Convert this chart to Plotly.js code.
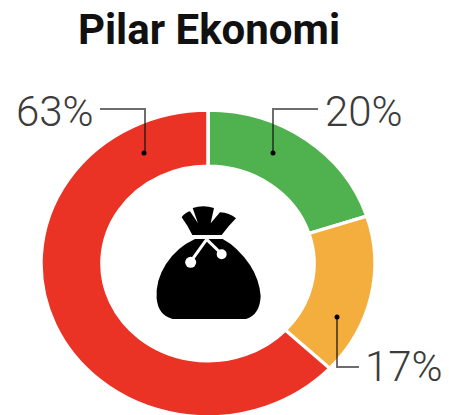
<!DOCTYPE html>
<html><head><meta charset="utf-8">
<script src="https://cdn.plot.ly/plotly-3.0.1.min.js"></script>
<style>html,body{margin:0;padding:0;background:#fff;overflow:hidden}#c{width:449px;height:415px}</style>
</head><body><div id="c"></div>
<script>
var categories=['Hijau','Kuning','Merah'];
var values=[20,17,63];
var tickLabels=['20%','17%','63%'];
var colors=['#4FB24E','#F3AE3E','#EA3225'];
var W=449,H=415;
var px=function(x){return x/W},py=function(y){return 1-y/H};
function ic(s){ // icon path, icon coords => paper
  return s.replace(/(-?[\d.]+) (-?[\d.]+)/g,function(m,a,b){
    return px(140+a/3).toFixed(5)+','+py(190+b/3).toFixed(5);});
}
function poly(pts){return 'M'+pts.map(function(p){return px(p[0]).toFixed(5)+','+py(p[1]).toFixed(5)}).join('L');}
var lineStyle={color:'rgba(20,20,20,0.62)',width:2};
var leaders=[
 [[100,109],[145,109],[145,153]],
 [[318,109],[273,109],[273,153]],
 [[337,317],[337,367],[359,367]]
];
var shapes=leaders.map(function(l){return {type:'path',xref:'paper',yref:'paper',path:poly(l),line:lineStyle,fillcolor:'rgba(0,0,0,0)'}});
[[144,153],[273,153],[337,317]].forEach(function(d){
 shapes.push({type:'circle',xref:'paper',yref:'paper',x0:px(d[0]-2.5),x1:px(d[0]+2.5),y0:py(d[1]+2.5),y1:py(d[1]-2.5),fillcolor:'#000',line:{width:0}});
});
var black={fillcolor:'#000',line:{width:0},type:'path',xref:'paper',yref:'paper'};
shapes.push(Object.assign({},black,{path:ic('M 125 82 Q 135 68 150 64 L 174 100 L 158 54 Q 190 44 222 54 L 212 100 L 240 67 Q 268 68 288 85 Q 265 108 245 135 L 157 135 Q 142 105 125 82 Z')}));
shapes.push(Object.assign({},black,{path:ic('M 165 147 Q 110 172 78 222 Q 46 272 50 325 Q 54 376 98 387 L 318 387 Q 360 374 362 318 Q 358 268 330 225 Q 292 170 248 147 Z')}));
var white={type:'path',xref:'paper',yref:'paper',line:{color:'#fff',width:3},fillcolor:'rgba(0,0,0,0)'};
shapes.push(Object.assign({},white,{path:ic('M 200 148 L 152 215')}));
shapes.push(Object.assign({},white,{path:ic('M 200 148 L 245 192')}));
[[152,217,5.5],[245,193,5]].forEach(function(c){
 var x=140+c[0]/3,y=190+c[1]/3;
 shapes.push({type:'circle',xref:'paper',yref:'paper',x0:px(x-c[2]),x1:px(x+c[2]),y0:py(y+c[2]),y1:py(y-c[2]),fillcolor:'#fff',line:{width:0}});
});
var labelFont={family:'Roboto, sans-serif',size:42,color:'#3c3c3c',weight:300};
var anns=[
 {text:tickLabels[2],x:px(55),y:py(111)},
 {text:tickLabels[0],x:px(364),y:py(111)},
 {text:tickLabels[1],x:px(404),y:py(366)}
].map(function(a){return Object.assign(a,{xref:'paper',yref:'paper',showarrow:false,font:labelFont,xanchor:'center',yanchor:'middle'})});
var R=167,pieCY=207.5,targetCY=263.5,squash=0.918;
var data=[{type:'pie',labels:categories,values:values,sort:false,direction:'clockwise',rotation:0,hole:0.635,
 textinfo:'none',hoverinfo:'none',showlegend:false,
 marker:{colors:colors,line:{color:'#fff',width:3.5}},
 domain:{x:[(208-R)/W,(208+R)/W],y:[1-(pieCY+R)/H,1-(pieCY-R)/H]}}];
var layout={width:W,height:H,margin:{l:0,r:0,t:0,b:0},paper_bgcolor:'#fff',showlegend:false,
 title:{text:'Pilar Ekonomi',font:{family:'Roboto, sans-serif',size:42,color:'#111',weight:700},x:209/W,xanchor:'center',y:1-29/H,yanchor:'middle'},
 shapes:shapes,annotations:anns};
Plotly.newPlot('c',data,layout,{displayModeBar:false,staticPlot:true}).then(function(gd){
 var g=gd.querySelector('.pielayer');
 if(g)g.setAttribute('transform','translate(0,'+targetCY+') scale(1,'+squash+') translate(0,'+(-pieCY)+')');
});
</script></body></html>
